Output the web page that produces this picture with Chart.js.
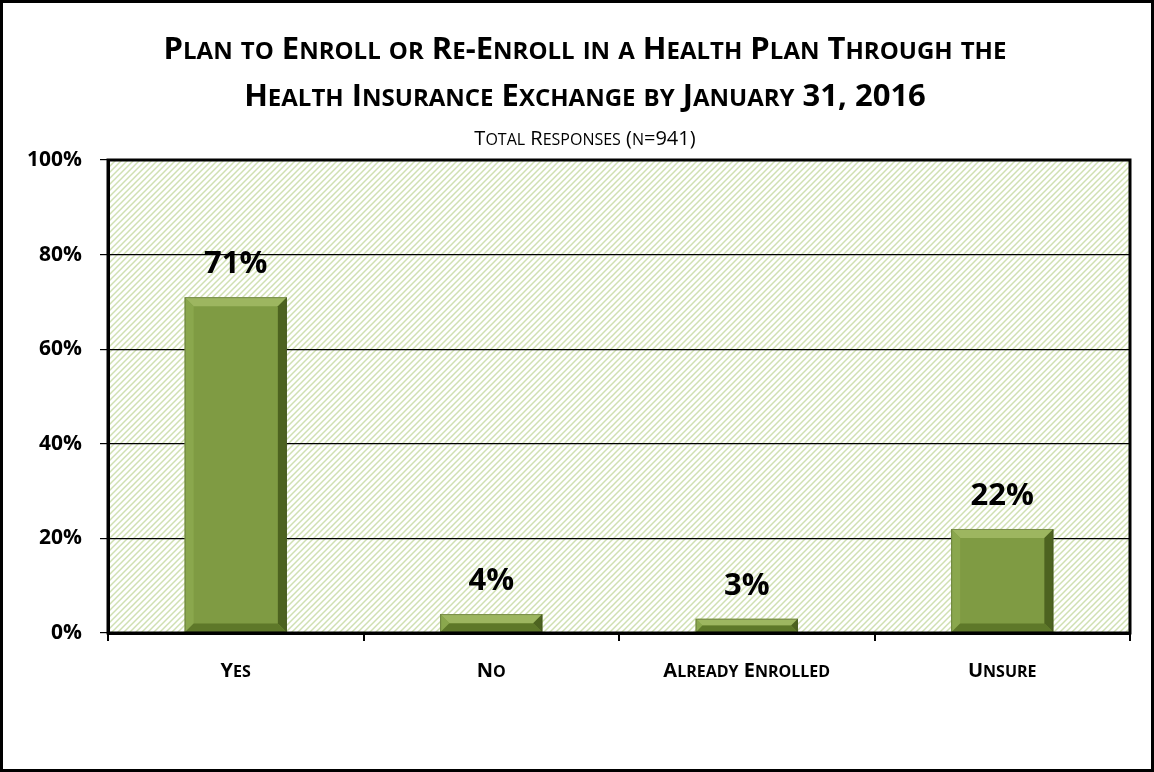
<!DOCTYPE html>
<html>
<head>
<meta charset="utf-8">
<script src="https://cdn.jsdelivr.net/npm/chart.js@4.4.0/dist/chart.umd.min.js"></script>
<style>
  html, body { margin: 0; padding: 0; background: #fff; }
  #wrap { width: 1154px; height: 772px; }
</style>
</head>
<body>
<div id="wrap"><canvas id="enrollChart" width="1154" height="772"></canvas></div>
<script>
"use strict";

// Chart data
const categories = ["Yes", "No", "Already Enrolled", "Unsure"];
const percentValues = [71, 4, 3, 22];
const yTickValues = [0, 20, 40, 60, 80, 100];

const titleLines = [
  "Plan to Enroll or Re-Enroll in a Health Plan Through the",
  "Health Insurance Exchange by January 31, 2016"
];
const subtitleText = "Total Responses (n=941)";

const FONT = "'Open Sans', 'DejaVu Sans', sans-serif";

// Draw text in small caps (canvas ignores font-variant), centred on x
function drawSmallCaps(ctx, text, x, y, size, weight) {
  const small = Math.round(size * 0.78);
  const parts = [];
  for (const ch of text) {
    const isLower = ch !== ch.toUpperCase();
    const s = isLower ? small : size;
    const c = ch.toUpperCase();
    const last = parts[parts.length - 1];
    if (last && last.size === s) last.text += c;
    else parts.push({ text: c, size: s });
  }
  let total = 0;
  parts.forEach(p => {
    ctx.font = weight + " " + p.size + "px " + FONT;
    p.width = ctx.measureText(p.text).width;
    total += p.width;
  });
  let cx = x - total / 2;
  ctx.textAlign = "left";
  ctx.textBaseline = "alphabetic";
  parts.forEach(p => {
    ctx.font = weight + " " + p.size + "px " + FONT;
    ctx.fillText(p.text, cx, y);
    cx += p.width;
  });
}

// Hatched background for the plot area
function makeHatch() {
  const c = document.createElement("canvas");
  c.width = 6;
  c.height = 6;
  const ctx = c.getContext("2d");
  ctx.fillStyle = "#ffffff";
  ctx.fillRect(0, 0, 6, 6);
  ctx.strokeStyle = "#d0e0b2";
  ctx.lineWidth = 1.5;
  ctx.beginPath();
  ctx.moveTo(-1, 7); ctx.lineTo(7, -1);
  ctx.moveTo(-4, 4); ctx.lineTo(4, -4);
  ctx.moveTo(2, 10); ctx.lineTo(10, 2);
  ctx.stroke();
  return ctx.createPattern(c, "repeat");
}

const plotBackground = {
  id: "plotBackground",
  beforeDraw(chart) {
    const { ctx, chartArea: a } = chart;
    ctx.save();
    ctx.fillStyle = "#ffffff";
    ctx.fillRect(0, 0, chart.width, chart.height);
    ctx.fillStyle = makeHatch();
    ctx.fillRect(a.left, a.top, a.right - a.left, a.bottom - a.top);
    ctx.restore();
  },
  afterDraw(chart) {
    const { ctx, chartArea: a } = chart;
    ctx.save();
    ctx.strokeStyle = "#000";
    ctx.lineWidth = 3;
    ctx.strokeRect(a.left, a.top, a.right - a.left, a.bottom - a.top);
    ctx.strokeRect(1.5, 1.5, chart.width - 3, chart.height - 3);

    // titles
    ctx.fillStyle = "#000";
    const mid = chart.width / 2 + 8;
    drawSmallCaps(ctx, titleLines[0], mid, 59, 31, "bold");
    drawSmallCaps(ctx, titleLines[1], mid, 106, 31, "bold");
    drawSmallCaps(ctx, subtitleText, mid, 145, 20, "normal");

    // category labels
    const xs = chart.scales.x;
    categories.forEach((c, i) => {
      drawSmallCaps(ctx, c, xs.getPixelForValue(i), 677, 20, "bold");
    });
    ctx.restore();
  }
};

// Bevelled bars + value labels
const bevelBars = {
  id: "bevelBars",
  afterDatasetsDraw(chart) {
    const { ctx } = chart;
    const meta = chart.getDatasetMeta(0);
    ctx.save();
    meta.data.forEach((bar, i) => {
      const left = bar.x - bar.width / 2;
      const right = bar.x + bar.width / 2;
      const top = bar.y;
      const bottom = bar.base;
      const h = bottom - top;
      const b = Math.min(9, h / 2);

      ctx.fillStyle = "#9db660";
      ctx.beginPath();
      ctx.moveTo(left, top); ctx.lineTo(right, top);
      ctx.lineTo(right - b, top + b); ctx.lineTo(left + b, top + b);
      ctx.closePath(); ctx.fill();
      ctx.fillStyle = "#8aa74d";
      ctx.beginPath();
      ctx.moveTo(left, top); ctx.lineTo(left + b, top + b);
      ctx.lineTo(left + b, bottom - b); ctx.lineTo(left, bottom);
      ctx.closePath(); ctx.fill();
      ctx.fillStyle = "#4d6320";
      ctx.beginPath();
      ctx.moveTo(right, top); ctx.lineTo(right, bottom);
      ctx.lineTo(right - b, bottom - b); ctx.lineTo(right - b, top + b);
      ctx.closePath(); ctx.fill();
      ctx.fillStyle = "#5e7829";
      ctx.beginPath();
      ctx.moveTo(left, bottom); ctx.lineTo(right, bottom);
      ctx.lineTo(right - b, bottom - b); ctx.lineTo(left + b, bottom - b);
      ctx.closePath(); ctx.fill();

      ctx.strokeStyle = "rgba(60,70,40,0.35)";
      ctx.lineWidth = 1;
      ctx.strokeRect(left + 0.5, top + 0.5, right - left - 1, h - 1);

      ctx.fillStyle = "#000";
      ctx.font = "bold 31px " + FONT;
      ctx.textAlign = "center";
      ctx.textBaseline = "middle";
      ctx.fillText(percentValues[i] + "%", bar.x, top - 33);
    });
    ctx.restore();
  }
};

new Chart(document.getElementById("enrollChart"), {
  type: "bar",
  data: {
    labels: categories,
    datasets: [{
      data: percentValues,
      backgroundColor: "#7f9b43",
      borderWidth: 0,
      categoryPercentage: 1,
      barPercentage: 0.4
    }]
  },
  options: {
    responsive: false,
    animation: false,
    layout: { padding: { left: 0, right: 24, top: 160, bottom: 0 } },
    plugins: {
      legend: { display: false },
      tooltip: { enabled: false },
      title: { display: false }
    },
    scales: {
      x: {
        afterFit(scale) { scale.height = 139; },
        grid: {
          offset: true,
          drawOnChartArea: false,
          drawTicks: true,
          tickLength: 8,
          color: "#000",
          lineWidth: 2
        },
        border: { display: true, color: "#000", width: 3 },
        ticks: {
          color: "rgba(0,0,0,0)",
          padding: 20,
          font: { family: FONT, size: 16, weight: "bold" },
          callback: () => ""
        }
      },
      y: {
        min: 0,
        max: 100,
        afterFit(scale) { scale.width = 108; },
        afterBuildTicks(scale) {
          scale.ticks = yTickValues.map(v => ({ value: v }));
        },
        grid: {
          color: "#000",
          lineWidth: 1.2,
          drawTicks: true,
          tickLength: 8
        },
        border: { display: true, color: "#000", width: 3 },
        ticks: {
          color: "#000",
          padding: 18,
          font: { family: FONT, size: 21, weight: "bold" },
          callback: v => v + "%"
        }
      }
    }
  },
  plugins: [plotBackground, bevelBars]
});
</script>
</body>
</html>
